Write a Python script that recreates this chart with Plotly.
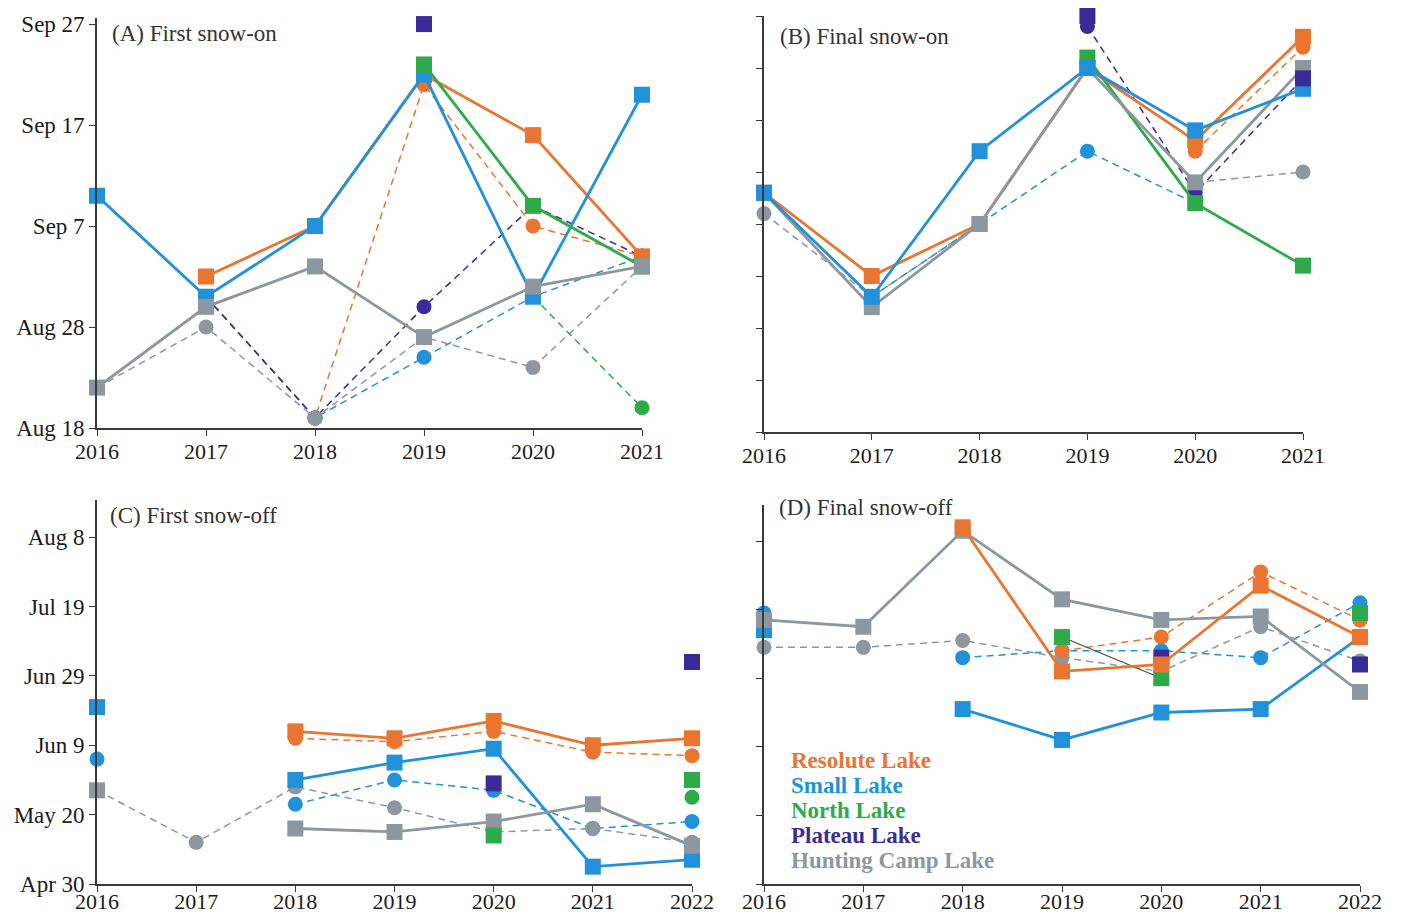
import pandas as pd
import plotly.graph_objects as go

# ---------------------------------------------------------------- data
YEARS_ON = [2016, 2017, 2018, 2019, 2020, 2021]
YEARS_OFF = [2016, 2017, 2018, 2019, 2020, 2021, 2022]

LAKES = ["Resolute Lake", "Small Lake", "North Lake", "Plateau Lake", "Hunting Camp Lake"]

# (A) First snow-on : squares = solid series, circles = dashed series
A_RES_SQ = [None, "Sep 2", "Sep 7", "Sep 22", "Sep 16", "Sep 4"]
A_RES_CI = [None, "Aug 31", "Aug 19", "Sep 21", "Sep 7", "Sep 4"]
A_SML_SQ = ["Sep 10", "Aug 31", "Sep 7", "Sep 22", "Aug 31", "Sep 20"]
A_SML_CI = [None, "Aug 31", "Aug 19", "Aug 25", "Aug 31", "Sep 4"]
A_NTH_SQ = [None, None, None, "Sep 23", "Sep 9", "Sep 3"]
A_NTH_CI = [None, None, None, None, "Aug 31", "Aug 20"]
A_PLT_SQ = [None, None, None, "Sep 27", None, None]
A_PLT_CI = [None, "Aug 31", "Aug 19", "Aug 30", "Sep 9", "Sep 4"]
A_HCL_SQ = ["Aug 22", "Aug 30", "Sep 3", "Aug 27", "Sep 1", "Sep 3"]
A_HCL_CI = ["Aug 22", "Aug 28", "Aug 19", "Aug 27", "Aug 24", "Sep 3"]

# (B) Final snow-on
B_RES_SQ = ["Sep 10", "Sep 2", "Sep 7", "Sep 22", "Sep 15", "Sep 25"]
B_RES_CI = [None, None, None, None, "Sep 14", "Sep 24"]
B_SML_SQ = ["Sep 10", "Aug 31", "Sep 14", "Sep 22", "Sep 16", "Sep 20"]
B_SML_CI = [None, "Aug 31", "Sep 7", "Sep 14", "Sep 9", None]
B_NTH_SQ = [None, None, None, "Sep 23", "Sep 9", "Sep 3"]
B_NTH_CI = [None, None, None, None, None, None]
B_PLT_SQ = [None, None, None, "Sep 27", None, "Sep 21"]
B_PLT_CI = [None, None, None, "Sep 26", "Sep 10", "Sep 21"]
B_HCL_SQ = ["Sep 10", "Aug 30", "Sep 7", "Sep 22", "Sep 11", "Sep 22"]
B_HCL_CI = ["Sep 8", "Aug 31", "Sep 7", None, "Sep 11", "Sep 12"]

# (C) First snow-off
C_RES_SQ = [None, None, "Jun 13", "Jun 11", "Jun 16", "Jun 9", "Jun 11"]
C_RES_CI = [None, None, "Jun 11", "Jun 10", "Jun 13", "Jun 7", "Jun 6"]
C_SML_SQ = ["Jun 20", None, "May 30", "Jun 4", "Jun 8", "May 5", "May 7"]
C_SML_CI = ["Jun 5", None, "May 23", "May 30", "May 27", "May 16", "May 18"]
C_NTH_SQ = [None, None, None, None, "May 14", None, "May 30"]
C_NTH_CI = [None, None, None, None, None, None, "May 25"]
C_PLT_SQ = [None, None, None, None, "May 29", None, "Jul 3"]
C_PLT_CI = [None, None, None, None, None, None, None]
C_HCL_SQ = ["May 27", None, "May 16", "May 15", "May 18", "May 23", "May 11"]
C_HCL_CI = ["May 27", "May 12", "May 28", "May 22", "May 15", "May 16", "May 12"]

# (D) Final snow-off
D_RES_SQ = [None, None, "Aug 12", "Jul 1", "Jul 3", "Jul 26", "Jul 11"]
D_RES_CI = [None, None, None, "Jul 7", "Jul 11", "Jul 30", "Jul 16"]
D_SML_SQ = ["Jul 13", None, "Jun 20", "Jun 11", "Jun 19", "Jun 20", "Jul 11"]
D_SML_CI = ["Jul 18", None, "Jul 5", "Jul 7", "Jul 7", "Jul 5", "Jul 21"]
D_NTH_SQ = [None, None, None, "Jul 11", "Jun 29", None, "Jul 18"]
D_NTH_CI = [None, None, None, None, None, None, "Jul 16"]
D_PLT_SQ = [None, None, None, None, "Jul 5", None, "Jul 3"]
D_PLT_CI = [None, None, None, None, None, None, None]
D_HCL_SQ = ["Jul 16", "Jul 14", "Aug 11", "Jul 22", "Jul 16", "Jul 17", "Jun 25"]
D_HCL_CI = ["Jul 8", "Jul 8", "Jul 10", "Jul 5", "Jul 1", "Jul 14", "Jul 4"]

# axis ticks
ON_TICKS = ["Aug 18", "Aug 28", "Sep 7", "Sep 17", "Sep 27"]
ON_MINOR_TICKS = ["Aug 18", "Aug 23", "Aug 28", "Sep 2", "Sep 7", "Sep 12",
                  "Sep 17", "Sep 22", "Sep 27"]
OFF_TICKS = ["Apr 30", "May 20", "Jun 9", "Jun 29", "Jul 19", "Aug 8"]

# ---------------------------------------------------------------- style
COLORS = {
    "Resolute Lake": "#EA7530",
    "Small Lake": "#2191DA",
    "North Lake": "#2EAB48",
    "Plateau Lake": "#3A2C98",
    "Hunting Camp Lake": "#8D979F",
}
SERIF = "Liberation Serif, Times New Roman, serif"
AXIS_COLOR = "#3a3a3a"
W, H = 1405, 916


def doy(label):
    if label is None:
        return None
    return pd.to_datetime(f"{label} 2001", format="%b %d %Y").dayofyear


def px_x(p):
    return p / W


def px_y(p):
    return 1 - p / H


fig = go.Figure()

PANELS = {
    "A": dict(years=YEARS_ON, axes=("x", "y"),
              series={"Resolute Lake": (A_RES_SQ, A_RES_CI), "Small Lake": (A_SML_SQ, A_SML_CI),
                      "North Lake": (A_NTH_SQ, A_NTH_CI), "Plateau Lake": (A_PLT_SQ, A_PLT_CI),
                      "Hunting Camp Lake": (A_HCL_SQ, A_HCL_CI)},
              order=["Resolute Lake", "Small Lake", "North Lake", "Plateau Lake", "Hunting Camp Lake"]),
    "B": dict(years=YEARS_ON, axes=("x2", "y2"),
              series={"Resolute Lake": (B_RES_SQ, B_RES_CI), "Small Lake": (B_SML_SQ, B_SML_CI),
                      "North Lake": (B_NTH_SQ, B_NTH_CI), "Plateau Lake": (B_PLT_SQ, B_PLT_CI),
                      "Hunting Camp Lake": (B_HCL_SQ, B_HCL_CI)},
              order=["Resolute Lake", "North Lake", "Hunting Camp Lake", "Small Lake", "Plateau Lake"]),
    "C": dict(years=YEARS_OFF, axes=("x3", "y3"),
              series={"Resolute Lake": (C_RES_SQ, C_RES_CI), "Small Lake": (C_SML_SQ, C_SML_CI),
                      "North Lake": (C_NTH_SQ, C_NTH_CI), "Plateau Lake": (C_PLT_SQ, C_PLT_CI),
                      "Hunting Camp Lake": (C_HCL_SQ, C_HCL_CI)},
              order=["Small Lake", "Hunting Camp Lake", "Resolute Lake", "North Lake", "Plateau Lake"]),
    "D": dict(years=YEARS_OFF, axes=("x4", "y4"),
              series={"Resolute Lake": (D_RES_SQ, D_RES_CI), "Small Lake": (D_SML_SQ, D_SML_CI),
                      "North Lake": (D_NTH_SQ, D_NTH_CI), "Plateau Lake": (D_PLT_SQ, D_PLT_CI),
                      "Hunting Camp Lake": (D_HCL_SQ, D_HCL_CI)},
              order=["Small Lake", "Hunting Camp Lake", "North Lake", "Plateau Lake", "Resolute Lake"]),
}

for key, panel in PANELS.items():
    xa, ya = panel["axes"]
    # dashed (circle) series underneath
    for lake in panel["order"]:
        _, circles = panel["series"][lake]
        ys = [doy(v) for v in circles]
        if all(v is None for v in ys):
            continue
        fig.add_trace(go.Scatter(
            x=panel["years"], y=ys, xaxis=xa, yaxis=ya, mode="lines+markers",
            line=dict(color=COLORS[lake], width=1.5, dash="7px,5px"),
            marker=dict(symbol="circle", size=15, color=COLORS[lake]),
            connectgaps=False, cliponaxis=False, showlegend=False, name=lake,
        ))
    # solid (square) series on top
    for lake in panel["order"]:
        squares, _ = panel["series"][lake]
        ys = [doy(v) for v in squares]
        if all(v is None for v in ys):
            continue
        line = dict(color=COLORS[lake], width=2.8)
        if lake == "Plateau Lake":
            line["width"] = 1.2
        if key == "D" and lake == "North Lake":
            line = dict(color="#5a4636", width=1.2)
        fig.add_trace(go.Scatter(
            x=panel["years"], y=ys, xaxis=xa, yaxis=ya, mode="lines+markers",
            line=line,
            marker=dict(symbol="square", size=16, color=COLORS[lake]),
            connectgaps=False, cliponaxis=False, showlegend=False, name=lake,
        ))

# ---------------------------------------------------------------- axes
COMMON = dict(showline=True, linecolor=AXIS_COLOR, linewidth=1.6, ticks="outside",
              ticklen=6, tickwidth=1.4, tickcolor=AXIS_COLOR, showgrid=False,
              zeroline=False, fixedrange=True, automargin=False)


def x_axis(left, right, years, anchor, standoff):
    return dict(domain=[px_x(left), px_x(right)], range=[years[0], years[-1]],
                tickvals=years, ticktext=[str(y) for y in years], anchor=anchor,
                ticklabelstandoff=standoff,
                tickfont=dict(family=SERIF, size=22, color="#1b1b1b"), **COMMON)


def y_axis(top, bottom, lo, hi, ticks, labels, anchor):
    return dict(domain=[px_y(bottom), px_y(top)], range=[lo, hi],
                tickvals=[doy(t) for t in ticks], ticktext=labels, anchor=anchor,
                tickfont=dict(family=SERIF, size=23, color="#1b1b1b"), **COMMON)


on_lo = doy("Aug 18")
off_lo = doy("Apr 30")

fig.update_layout(
    width=W, height=H,
    margin=dict(l=0, r=0, t=0, b=0, autoexpand=False),
    paper_bgcolor="white", plot_bgcolor="white",
    xaxis=x_axis(97, 642, YEARS_ON, "y", -3),
    yaxis=y_axis(18, 428, on_lo, on_lo + 40.6, ON_TICKS, ON_TICKS, "x"),
    xaxis2=x_axis(764, 1303, YEARS_ON, "y2", -3),
    yaxis2=y_axis(16, 432, on_lo, on_lo + 40, ON_MINOR_TICKS, [""] * len(ON_MINOR_TICKS), "x2"),
    xaxis3=x_axis(97, 692, YEARS_OFF, "y3", -9),
    yaxis3=y_axis(500, 884, off_lo, off_lo + 110.7, OFF_TICKS, OFF_TICKS, "x3"),
    xaxis4=x_axis(764, 1360, YEARS_OFF, "y4", -9),
    yaxis4=y_axis(505, 884, off_lo, off_lo + 110.5, OFF_TICKS, [""] * len(OFF_TICKS), "x4"),
)

# ---------------------------------------------------------------- panel titles
TITLES = [("(A) First snow-on", 110, 33), ("(B) Final snow-on", 778, 37),
          ("(C) First snow-off", 108, 515), ("(D) Final snow-off", 777, 508)]
for text, px, py in TITLES:
    fig.add_annotation(text=text, xref="paper", yref="paper", x=px_x(px), y=px_y(py),
                       xanchor="left", yanchor="middle", showarrow=False,
                       font=dict(family=SERIF, size=23, color="#333333"))

# ---------------------------------------------------------------- lake key
for i, lake in enumerate(LAKES):
    fig.add_annotation(text=f"<b>{lake}</b>", xref="paper", yref="paper",
                       x=px_x(789), y=px_y(760 + 25 * i), xanchor="left", yanchor="middle",
                       showarrow=False, font=dict(family=SERIF, size=23, color=COLORS[lake]))

fig.write_html("out.html")
